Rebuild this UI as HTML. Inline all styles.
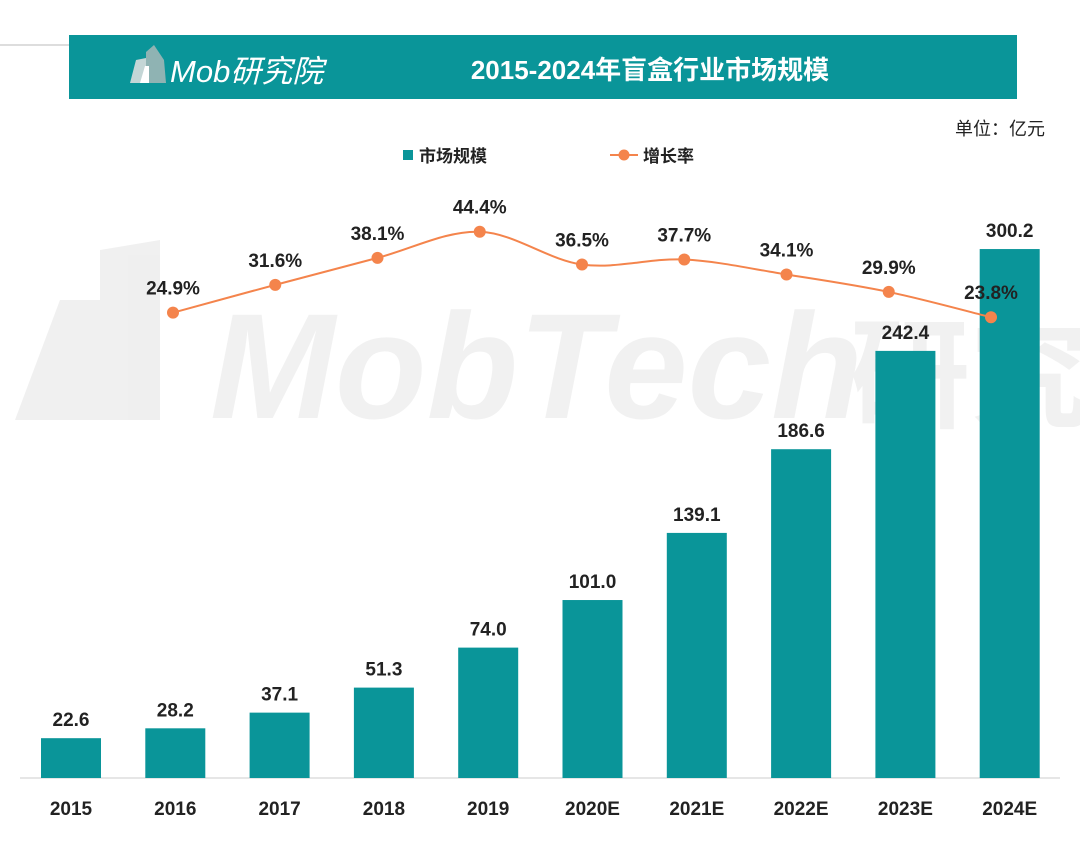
<!DOCTYPE html>
<html><head><meta charset="utf-8"><style>
body{margin:0;width:1080px;height:850px;background:#fff;overflow:hidden;font-family:"Liberation Sans","Noto Sans CJK SC",sans-serif}
svg{display:block}
</style></head><body>
<svg id="c" width="1080" height="850">
<line x1="0" y1="45" x2="69" y2="45" stroke="#bbb" stroke-width="1"/>
<g opacity="0.55">
<path d="M15 420 L60 300 L100 300 L100 250 L160 240 L160 420 Z" fill="#e3e3e3"/>
<text x="210" y="418" font-size="150" font-style="italic" font-weight="bold" fill="#e6e6e6" font-family="Liberation Sans, sans-serif">MobTech</text>
<text x="850" y="418" font-size="120" font-weight="bold" fill="#e6e6e6">研究</text>
</g>
<rect x="69" y="35" width="948" height="64" fill="#0a9599"/>
<g>
<path d="M130 83 L136 60 L146 58 L146 83 Z" fill="#c4d6d6"/>
<path d="M146 83 L146 52 L154 45 L164 60 L166 83 Z" fill="#8fb3b3"/>
<path d="M140 83 L145 66 L149 66 L149 83 Z" fill="#fff"/>
<text x="170" y="82" font-size="31" font-style="italic" fill="#fff">Mob研究院</text>
</g>
<text x="650" y="79" font-size="26" font-weight="bold" fill="#fff" text-anchor="middle">2015-2024年盲盒行业市场规模</text>
<text x="1045" y="135" font-size="18" fill="#222" text-anchor="end">单位：亿元</text>
<g>
<rect x="403" y="150" width="10" height="10" fill="#0a9599"/>
<text x="419" y="162" font-size="17" font-weight="bold" fill="#222">市场规模</text>
<line x1="610" y1="155" x2="638" y2="155" stroke="#f4844c" stroke-width="2"/>
<circle cx="624" cy="155" r="5.5" fill="#f4844c"/>
<text x="643" y="162" font-size="17" font-weight="bold" fill="#222">增长率</text>
</g>
<line x1="20" y1="778" x2="1060" y2="778" stroke="#ccc" stroke-width="1"/>
<g id="bars"></g><g id="line"></g>
</svg>
<script>
const categories=["2015","2016","2017","2018","2019","2020E","2021E","2022E","2023E","2024E"];
const marketSize=[22.6,28.2,37.1,51.3,74.0,101.0,139.1,186.6,242.4,300.2];
const growthCats=["2016","2017","2018","2019","2020E","2021E","2022E","2023E","2024E"];
const growthRate=[24.9,31.6,38.1,44.4,36.5,37.7,34.1,29.9,23.8];
const NS="http://www.w3.org/2000/svg";
const svg=document.getElementById('c');
const bx=i=>71+i*104.3, by=v=>778-v*1.762;
const lx=i=>173+i*102.25, ly=v=>416-v*4.15;
function mk(t,a,p){const e=document.createElementNS(NS,t);for(const k in a)e.setAttribute(k,a[k]);p.appendChild(e);return e;}
const bg=document.getElementById('bars');
categories.forEach((c,i)=>{
 const v=marketSize[i];
 const r=mk('rect',{x:bx(i)-30,y:by(v),width:60,height:778-by(v),fill:'#0a9599'},bg);
 
 
 const t=mk('text',{x:bx(i),y:by(v)-12,'font-size':19,'font-weight':'bold','text-anchor':'middle',fill:'#222'},bg);
 t.textContent=v.toFixed(1);
 
 
 const xl=mk('text',{x:bx(i),y:815,'font-size':19,'font-weight':'bold','text-anchor':'middle',fill:'#222'},bg);
 xl.textContent=c;
 
 
});
const lg=document.getElementById('line');
const pts=growthRate.map((v,i)=>[lx(i),ly(v)]);
let d='M'+pts[0][0]+' '+pts[0][1];
for(let i=0;i<pts.length-1;i++){const p0=pts[i-1]||pts[i],p1=pts[i],p2=pts[i+1],p3=pts[i+2]||p2;
 d+=` C${p1[0]+(p2[0]-p0[0])/6} ${p1[1]+(p2[1]-p0[1])/6} ${p2[0]-(p3[0]-p1[0])/6} ${p2[1]-(p3[1]-p1[1])/6} ${p2[0]} ${p2[1]}`;}
const path=mk('path',{d:d,fill:'none',stroke:'#f4844c','stroke-width':2},lg);


growthRate.forEach((v,i)=>{
 const c=mk('circle',{cx:lx(i),cy:ly(v),r:6,fill:'#f4844c'},lg);
 
 
 const t=mk('text',{x:lx(i),y:ly(v)-18,'font-size':19,'font-weight':'bold','text-anchor':'middle',fill:'#222'},lg);
 t.textContent=v.toFixed(1)+'%';
 
 
});
</script>
</body></html>
